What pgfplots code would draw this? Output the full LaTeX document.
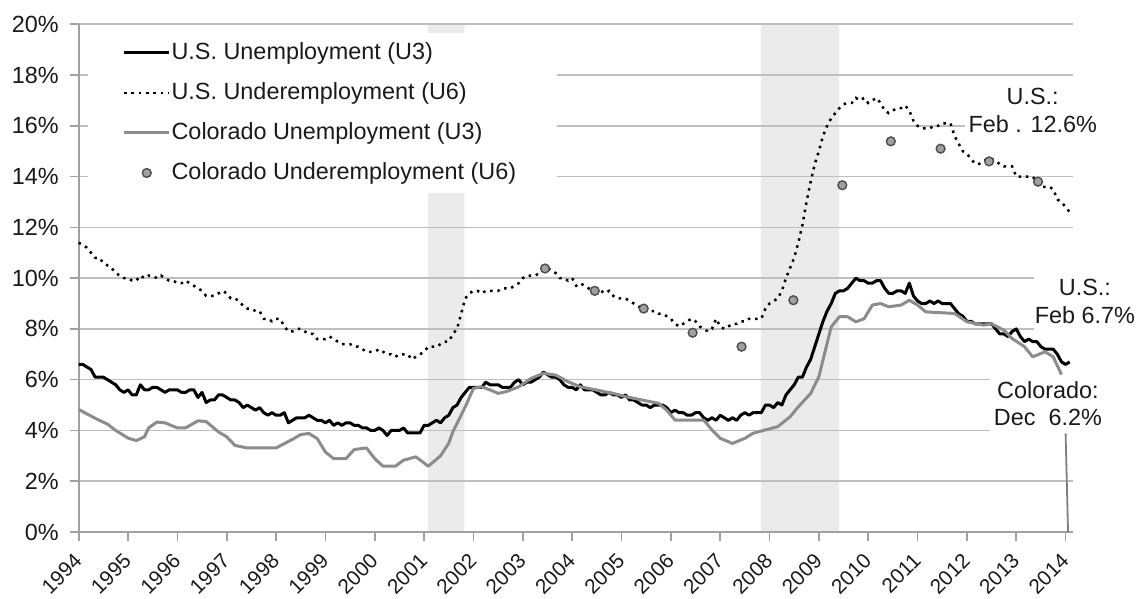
\documentclass[border=0pt]{standalone}
\usepackage{fontspec}
\setmainfont{Liberation Sans}
\usepackage{pgfplots}
\pgfplotsset{compat=1.18}
\usepackage{pgfplotstable}
\definecolor{rec}{HTML}{EBEBEB}
\definecolor{gridc}{HTML}{BFBFBF}
\definecolor{axisc}{HTML}{A0A0A0}
\definecolor{cogray}{HTML}{8C8C8C}
\definecolor{mkfill}{HTML}{A0A0A0}
\definecolor{mkdraw}{HTML}{4D4D4D}
\definecolor{leader}{HTML}{7F7F7F}
\definecolor{txt}{HTML}{1A1A1A}
\newcommand{\ff}{\fontsize{11.7pt}{13.75pt}\selectfont}
\newcommand{\fx}{\fontsize{10.4pt}{12pt}\selectfont}

% U.S. unemployment rate (U3), monthly Jan 1994 - Feb 2014
\pgfplotstableread[header=false,row sep=\\]{
6.6\\6.6\\6.5\\6.4\\6.1\\6.1\\6.1\\6.0\\5.9\\5.8\\5.6\\5.5\\
5.6\\5.4\\5.4\\5.8\\5.6\\5.6\\5.7\\5.7\\5.6\\5.5\\5.6\\5.6\\
5.6\\5.5\\5.5\\5.6\\5.6\\5.3\\5.5\\5.1\\5.2\\5.2\\5.4\\5.4\\
5.3\\5.2\\5.2\\5.1\\4.9\\5.0\\4.9\\4.8\\4.9\\4.7\\4.6\\4.7\\
4.6\\4.6\\4.7\\4.3\\4.4\\4.5\\4.5\\4.5\\4.6\\4.5\\4.4\\4.4\\
4.3\\4.4\\4.2\\4.3\\4.2\\4.3\\4.3\\4.2\\4.2\\4.1\\4.1\\4.0\\
4.0\\4.1\\4.0\\3.8\\4.0\\4.0\\4.0\\4.1\\3.9\\3.9\\3.9\\3.9\\
4.2\\4.2\\4.3\\4.4\\4.3\\4.5\\4.6\\4.9\\5.0\\5.3\\5.5\\5.7\\
5.7\\5.7\\5.7\\5.9\\5.8\\5.8\\5.8\\5.7\\5.7\\5.7\\5.9\\6.0\\
5.8\\5.9\\5.9\\6.0\\6.1\\6.3\\6.2\\6.1\\6.1\\6.0\\5.8\\5.7\\
5.7\\5.6\\5.8\\5.6\\5.6\\5.6\\5.5\\5.4\\5.4\\5.5\\5.4\\5.4\\
5.3\\5.4\\5.2\\5.2\\5.1\\5.0\\5.0\\4.9\\5.0\\5.0\\5.0\\4.9\\
4.7\\4.8\\4.7\\4.7\\4.6\\4.6\\4.7\\4.7\\4.5\\4.4\\4.5\\4.4\\
4.6\\4.5\\4.4\\4.5\\4.4\\4.6\\4.7\\4.6\\4.7\\4.7\\4.7\\5.0\\
5.0\\4.9\\5.1\\5.0\\5.4\\5.6\\5.8\\6.1\\6.1\\6.5\\6.8\\7.3\\
7.8\\8.3\\8.7\\9.0\\9.4\\9.5\\9.5\\9.6\\9.8\\10.0\\9.9\\9.9\\
9.8\\9.8\\9.9\\9.9\\9.6\\9.4\\9.4\\9.5\\9.5\\9.4\\9.8\\9.3\\
9.1\\9.0\\9.0\\9.1\\9.0\\9.1\\9.0\\9.0\\9.0\\8.8\\8.6\\8.5\\
8.3\\8.3\\8.2\\8.2\\8.2\\8.2\\8.2\\8.0\\7.8\\7.8\\7.7\\7.9\\
8.0\\7.7\\7.5\\7.6\\7.5\\7.5\\7.3\\7.2\\7.2\\7.2\\7.0\\6.7\\
6.6\\6.7\\
}\usthree

% U.S. underemployment rate (U6), monthly Jan 1994 - Feb 2014
\pgfplotstableread[header=false,row sep=\\]{
11.4\\11.3\\11.2\\11.0\\10.8\\10.8\\10.6\\10.5\\10.4\\10.2\\10.1\\10.0\\
10.0\\9.9\\9.9\\10.1\\10.0\\10.1\\10.1\\10.0\\10.1\\10.0\\9.9\\9.9\\
9.8\\9.8\\9.9\\9.8\\9.7\\9.6\\9.5\\9.3\\9.3\\9.3\\9.4\\9.5\\
9.4\\9.2\\9.2\\9.1\\8.9\\8.8\\8.8\\8.7\\8.7\\8.4\\8.4\\8.3\\
8.4\\8.4\\8.1\\7.9\\7.9\\8.0\\8.0\\7.9\\7.8\\7.8\\7.6\\7.6\\
7.6\\7.7\\7.6\\7.5\\7.4\\7.4\\7.4\\7.3\\7.3\\7.2\\7.1\\7.1\\
7.1\\7.2\\7.1\\7.0\\7.0\\6.9\\7.0\\7.0\\7.0\\6.8\\6.9\\7.0\\
7.1\\7.3\\7.3\\7.3\\7.4\\7.5\\7.5\\7.8\\8.0\\8.6\\9.2\\9.4\\
9.5\\9.5\\9.4\\9.5\\9.5\\9.5\\9.5\\9.6\\9.6\\9.6\\9.7\\9.8\\
10.0\\10.1\\10.1\\10.1\\10.2\\10.3\\10.4\\10.3\\10.2\\10.0\\10.0\\9.9\\
10.0\\9.7\\9.8\\9.7\\9.6\\9.5\\9.5\\9.5\\9.4\\9.5\\9.3\\9.2\\
9.2\\9.2\\9.1\\9.0\\8.9\\8.8\\8.8\\8.7\\8.7\\8.6\\8.6\\8.5\\
8.4\\8.2\\8.1\\8.2\\8.3\\8.4\\8.3\\8.1\\8.0\\7.9\\8.0\\8.4\\
8.1\\8.0\\8.1\\8.2\\8.2\\8.3\\8.3\\8.4\\8.4\\8.4\\8.4\\8.8\\
9.0\\9.1\\9.2\\9.5\\10.0\\10.4\\10.8\\11.4\\12.1\\13.0\\13.8\\14.5\\
15.0\\15.6\\16.0\\16.3\\16.5\\16.7\\16.85\\16.9\\16.9\\17.1\\17.0\\17.1\\
16.9\\17.0\\17.1\\16.9\\16.6\\16.5\\16.6\\16.7\\16.7\\16.8\\16.6\\16.2\\
16.0\\15.9\\15.9\\15.9\\16.0\\16.0\\16.1\\16.1\\16.1\\15.6\\15.3\\15.0\\
14.9\\14.7\\14.5\\14.5\\14.6\\14.7\\14.7\\14.6\\14.5\\14.4\\14.4\\14.4\\
14.0\\14.0\\14.0\\14.0\\14.0\\13.8\\13.6\\13.6\\13.6\\13.5\\13.1\\13.0\\
12.8\\12.6\\
}\ussix

\begin{document}
\begin{tikzpicture}[font=\ff]
\begin{axis}[
  set layers,
  at={(39.35pt,33.5pt)}, anchor=south west,
  scale only axis, width=497.15pt, height=253.85pt,
  xmin=0, xmax=241.8, ymin=0, ymax=20,
  axis x line*=bottom, axis y line*=left,
  axis line style={axisc, line width=1pt},
  xtick={0,12,24,36,48,60,72,84,96,108,120,132,144,156,168,180,192,204,216,228,240},
  xticklabels={1994,1995,1996,1997,1998,1999,2000,2001,2002,2003,2004,2005,2006,2007,2008,2009,2010,2011,2012,2013,2014},
  ytick={0,2,4,6,8,10,12,14,16,18,20},
  yticklabels={0\%,2\%,4\%,6\%,8\%,10\%,12\%,14\%,16\%,18\%,20\%},
  ymajorgrids, grid style={gridc, line width=0.8pt},
  tick style={axisc, line width=0.8pt},
  tick align=outside, major tick length=4.3pt,
  clip=false,
  tick label style={font=\ff, text=txt},
  yticklabel style={anchor=east, inner sep=0pt, xshift=-5.5pt},
  xticklabel style={font=\fx, xshift=-2.95pt, yshift=-5.55pt, rotate=45, anchor=north east, inner sep=0pt},
  legend style={at={(0.04425,0.9725)}, anchor=north west, draw=none, fill=none,
    inner sep=0pt, outer sep=0pt, font=\ff, text=txt, row sep=5.3pt,
    nodes={inner xsep=0.3pt, inner ysep=1.85pt, text height=8.6pt, text depth=2.4pt}},
  legend cell align=left,
  legend image code/.code={\draw[mark repeat=2,mark phase=2,#1] plot coordinates {(0pt,0pt) (11.3pt,0pt) (22.65pt,0pt)};},
]
% recession shading (beneath the grid)
\addplot[fill=rec, draw=none, on layer=axis background, forget plot] coordinates {(85.0,0) (85.0,20) (93.8,20) (93.8,0)} \closedcycle;
\addplot[fill=rec, draw=none, on layer=axis background, forget plot] coordinates {(165.9,0) (165.9,20) (184.9,20) (184.9,0)} \closedcycle;

% legend background and annotation boxes
\begin{pgfonlayer}{pre main}
\fill[white] (axis cs:2.26,13.35) rectangle (axis cs:116.3,19.66);
\node[fill=white, inner xsep=2pt, inner ysep=3.5pt, align=center, text=txt] at (axis cs:232.0,16.61) {U.S.:\\Feb . 12.6\%};
\node[fill=white, inner xsep=0.5pt, inner ysep=3.5pt, align=center, text=txt] at (axis cs:244.7,9.08) {U.S.:\\Feb 6.7\%};
\node[fill=white, inner xsep=2pt, inner ysep=3.5pt, align=center, text=txt] at (axis cs:235.7,5.05) {Colorado:\\Dec\ \ 6.2\%};
\end{pgfonlayer}

\addplot[black, line width=1.5pt, line join=round] table[x expr=\coordindex, y index=0] {\usthree};
\addlegendentry{U.S. Unemployment (U3)}

\addplot[black, line width=1.25pt, dash pattern=on 1.25pt off 2.4pt] table[x expr=\coordindex, y index=0] {\ussix};
\addlegendentry{U.S. Underemployment (U6)}

\addplot[cogray, line width=1.5pt, line join=round] coordinates {
(0,4.83) (2,4.65) (5,4.4) (7,4.25) (9,4.0) (12,3.7) (14,3.6) (16,3.75) (17,4.1) (19,4.33) (21,4.3)
(24,4.1) (26,4.1) (29,4.38) (31,4.35) (34,3.94) (36,3.75) (38,3.41) (41,3.31) (48,3.31) (50,3.48)
(52,3.65) (54,3.84) (56,3.88) (58,3.68) (60,3.15) (62,2.89) (65,2.89) (67,3.25) (70,3.31) (72,2.89)
(74,2.59) (77,2.59) (79,2.83) (82,2.96) (84,2.72) (85,2.59) (88,3.0) (90,3.5) (91,3.95) (93,4.6)
(94,4.93) (96,5.66) (98,5.72) (100,5.6) (102,5.46) (104,5.53) (107,5.72) (110,6.05) (113,6.25)
(116,6.18) (119,5.92) (122,5.72) (126,5.59) (130,5.46) (133,5.33) (137,5.20) (141,5.07) (143,4.80)
(145,4.41) (152,4.41) (154,4.02) (156,3.69) (159,3.49) (162,3.69) (164,3.89) (167,4.02) (170,4.15)
(173,4.54) (175,4.93) (178,5.46) (180,6.12) (182,7.43) (183,8.08) (185,8.48) (187,8.48) (189,8.28)
(191,8.4) (193,8.94) (195,9.0) (197,8.87) (200,8.94) (202,9.13) (204,8.94) (206,8.67) (213,8.61)
(216,8.28) (220,8.15) (222,8.2) (225,7.95) (227,7.62) (230,7.30) (232,6.90) (235,7.10) (237,6.9) (239,6.2)
};
\addlegendentry{Colorado Unemployment (U3)}

\addplot[only marks, mark=*, mark size=2.2pt, mark options={fill=mkfill, draw=mkdraw, line width=0.7pt}] coordinates {
(113.4,10.38) (125.5,9.5) (137.4,8.8) (149.3,7.85) (161.2,7.3) (173.8,9.13) (185.7,13.66) (197.5,15.39) (209.6,15.1) (221.4,14.6) (233.3,13.8)
};
\addlegendentry{Colorado Underemployment (U6)}

% leader line of the Colorado label
\addplot[leader, line width=0.9pt, forget plot] coordinates {(240.0,3.88) (240.6,0)};
\end{axis}
\pgfresetboundingbox
\useasboundingbox (0,0) rectangle (568.5pt,299.5pt);
\end{tikzpicture}
\end{document}
